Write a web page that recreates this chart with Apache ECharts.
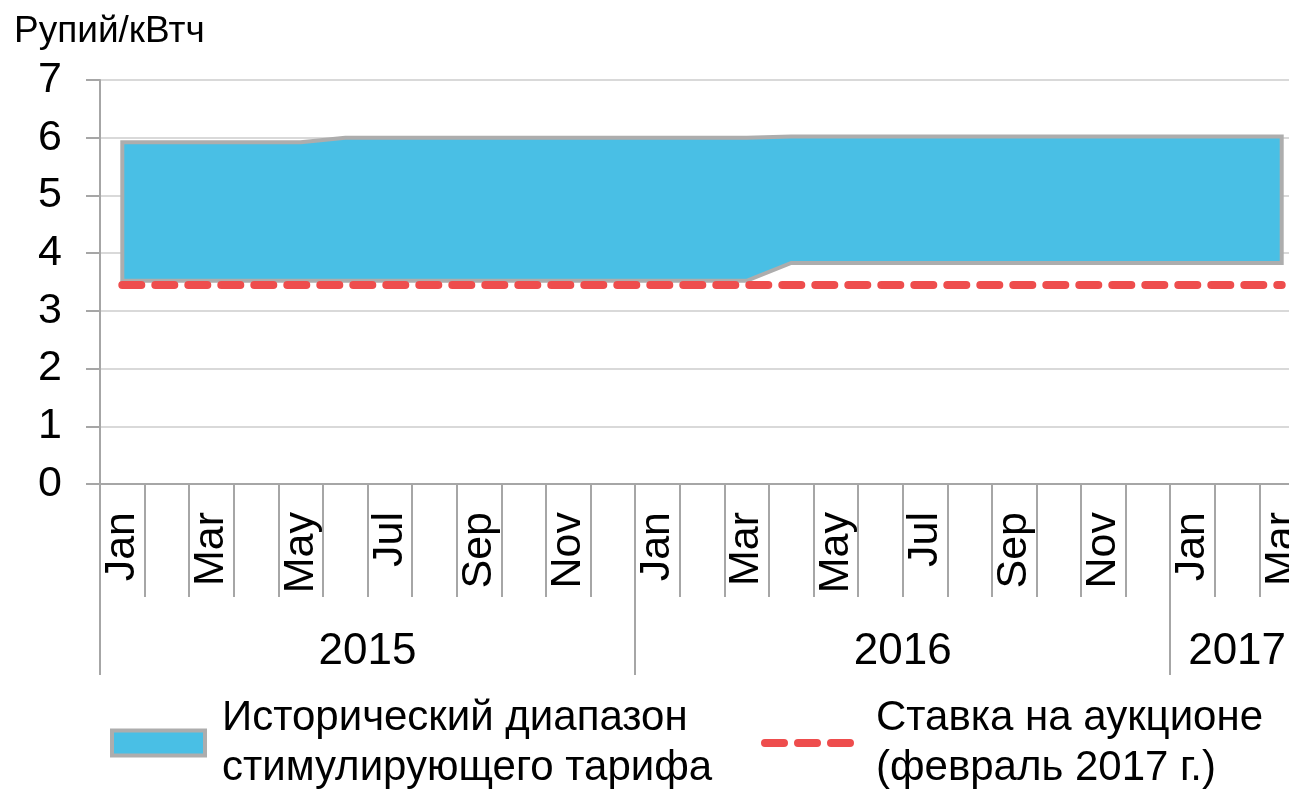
<!DOCTYPE html>
<html>
<head>
<meta charset="utf-8">
<script src="https://cdn.jsdelivr.net/npm/echarts@6/dist/echarts.min.js"></script>
<style>
  html, body { margin: 0; padding: 0; background: #fff; }
  #chart { width: 1289px; height: 793px; }
</style>
</head>
<body>
<div id="chart"></div>
<script>
// months Jan 2015 .. Mar 2017
const months = ['Jan', 'Feb', 'Mar', 'Apr', 'May', 'Jun', 'Jul', 'Aug', 'Sep', 'Oct', 'Nov', 'Dec',
  'Jan', 'Feb', 'Mar', 'Apr', 'May', 'Jun', 'Jul', 'Aug', 'Sep', 'Oct', 'Nov', 'Dec',
  'Jan', 'Feb', 'Mar']
const years = ['2015', '2016', '2017']
const yearStarts = [0, 12, 24]      // month index where each year begins
const yearMids = [6, 18, 25.5]      // where the year label sits
// historical feed-in tariff range, rupee/kWh
const tariffUpper = [5.92, 5.92, 5.92, 5.92, 5.92, 6.0, 6.0, 6.0, 6.0, 6.0, 6.0, 6.0,
  6.0, 6.0, 6.0, 6.02, 6.02, 6.02, 6.02, 6.02, 6.02, 6.02, 6.02, 6.02,
  6.02, 6.02, 6.02]
const tariffLower = [3.52, 3.52, 3.52, 3.52, 3.52, 3.52, 3.52, 3.52, 3.52, 3.52, 3.52, 3.52,
  3.52, 3.52, 3.52, 3.83, 3.83, 3.83, 3.83, 3.83, 3.83, 3.83, 3.83, 3.83,
  3.83, 3.83, 3.83]
// auction rate, Feb 2017
const auctionRate = [3.45, 3.45, 3.45, 3.45, 3.45, 3.45, 3.45, 3.45, 3.45, 3.45, 3.45, 3.45,
  3.45, 3.45, 3.45, 3.45, 3.45, 3.45, 3.45, 3.45, 3.45, 3.45, 3.45, 3.45,
  3.45, 3.45, 3.45]

const bandName = 'Исторический диапазон\nстимулирующего тарифа'
const rateName = 'Ставка на аукционе\n(февраль 2017 г.)'

const font = 'Liberation Sans, Arial, sans-serif'
const axisGray = '#a6a6a6'
const bandBlue = '#49bfe5'
const bandEdge = '#adadad'
const rateRed = '#ee4d4d'

const chart = echarts.init(document.getElementById('chart'))

chart.setOption({
  animation: false,
  textStyle: { fontFamily: font, color: '#000' },
  title: {
    text: 'Рупий/кВтч',
    left: 9,
    top: 8,
    textStyle: { fontFamily: font, fontWeight: 'normal', fontSize: 37, color: '#000' }
  },
  legend: [
    {
      data: [bandName],
      left: 105,
      top: 688,
      icon: 'rect',
      itemWidth: 93,
      itemHeight: 25,
      itemStyle: { color: bandBlue, borderColor: bandEdge, borderWidth: 4 },
      textStyle: { fontSize: 42, lineHeight: 50, color: '#000', fontFamily: font, padding: [0, 0, 0, 12] }
    },
    {
      data: [rateName],
      left: 756,
      top: 688,
      itemWidth: 88,
      itemHeight: 25,
      itemStyle: { opacity: 0 },
      lineStyle: { width: 8, type: [19, 14], cap: 'round', color: rateRed },
      textStyle: { fontSize: 42, lineHeight: 50, color: '#000', fontFamily: font, padding: [0, 0, 0, 18] }
    }
  ],
  grid: {
    left: 100,
    top: 80,
    bottom: 309,
    width: 1204,
    outerBoundsMode: 'none'
  },
  xAxis: [
    {
      type: 'category',
      data: months,
      boundaryGap: true,
      axisLine: { lineStyle: { color: axisGray, width: 2 } },
      axisTick: { show: true, interval: 0, length: 113, lineStyle: { color: axisGray, width: 2 } },
      axisLabel: { interval: 1, rotate: 90, margin: 28, fontSize: 43, color: '#000', fontFamily: font },
      splitLine: { show: false }
    },
    {
      type: 'value',
      position: 'bottom',
      min: 0,
      max: months.length,
      axisLine: { show: false },
      axisTick: { show: true, customValues: yearStarts, length: 191, lineStyle: { color: axisGray, width: 2 } },
      axisLabel: {
        customValues: yearMids,
        margin: 146,
        fontSize: 44,
        color: '#000',
        fontFamily: font,
        formatter: v => years[yearMids.indexOf(v)]
      },
      splitLine: { show: false }
    }
  ],
  yAxis: {
    type: 'value',
    min: 0,
    max: 7,
    interval: 1,
    axisLine: { show: true, lineStyle: { color: axisGray, width: 2 } },
    axisTick: { show: true, length: 14, lineStyle: { color: axisGray, width: 2 } },
    axisLabel: { margin: 38, fontSize: 43, color: '#000', fontFamily: font },
    splitLine: { lineStyle: { color: '#d9d9d9', width: 2 } }
  },
  series: [
    {
      name: bandName,
      type: 'custom',
      xAxisIndex: 0,
      yAxisIndex: 0,
      data: [[0]],
      itemStyle: { color: bandBlue, borderColor: bandEdge, borderWidth: 4 },
      renderItem: (params, api) => {
        const pts = []
        for (let i = 0; i < months.length; i++) pts.push(api.coord([i, tariffUpper[i]]))
        for (let i = months.length - 1; i >= 0; i--) pts.push(api.coord([i, tariffLower[i]]))
        return {
          type: 'polygon',
          shape: { points: pts },
          style: { fill: bandBlue, stroke: bandEdge, lineWidth: 4, lineJoin: 'miter' }
        }
      },
      z: 2
    },
    {
      name: rateName,
      type: 'line',
      data: auctionRate,
      symbol: 'none',
      lineStyle: { color: rateRed, width: 8, type: [19, 14], cap: 'round' },
      itemStyle: { color: rateRed },
      z: 3
    }
  ]
})
</script>
</body>
</html>
